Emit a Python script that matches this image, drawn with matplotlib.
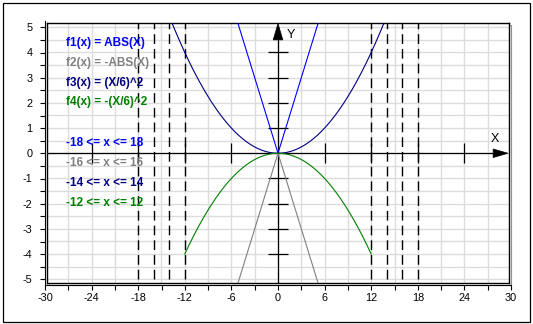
import numpy as np
import matplotlib.pyplot as plt
from matplotlib.patches import Rectangle, Polygon

plt.rcParams['font.family'] = ['Liberation Sans', 'DejaVu Sans']
plt.rcParams['lines.scale_dashes'] = False
plt.rcParams['axes.unicode_minus'] = False

# functions shown in the chart, with their x domains
labels = ["f1(x) = ABS(X)", "f2(x) = -ABS(X)", "f3(x) = (X/6)^2", "f4(x) = -(X/6)^2"]
funcs = [lambda x: np.abs(x), lambda x: -np.abs(x),
         lambda x: (x / 6) ** 2, lambda x: -(x / 6) ** 2]
domains = [18, 16, 14, 12]
colors = ["#0000ff", "#808080", "#000080", "#008000"]
range_labels = ["-18 <= x <= 18", "-16 <= x <= 16", "-14 <= x <= 14", "-12 <= x <= 12"]

axis_xticks = [-24, -18, -12, -6, 6, 12, 18, 24]
axis_yticks = [-4, -3, -2, -1, 1, 2, 3, 4]

W, H = 533, 324
fig = plt.figure(figsize=(W / 100, H / 100), dpi=100, facecolor="w")


def fx(px):
    return px / W


def fy(py):
    return 1 - py / H


# plotting box
ax = fig.add_axes([fx(47), fy(283), fx(509) - fx(47), fy(23) - fy(283)], zorder=2)
ax.set_xlim(-29.742, 29.742)
ax.set_ylim(-5.15, 5.17)
ax.set_xticks(np.arange(-27, 28, 3))
ax.set_yticks(np.arange(-5, 5.01, 0.5))
ax.tick_params(length=0, labelleft=False, labelbottom=False)
ax.grid(color="#dcdcdc", lw=1.0)
ax.set_axisbelow(True)
for s in ax.spines.values():
    s.set_color("black")
    s.set_linewidth(1.0)

# outer scale axes
ax2 = fig.add_axes([fx(45), fy(279.3), fx(511) - fx(45), fy(27.3) - fy(279.3)], zorder=1)
ax2.patch.set_visible(False)
ax2.set_xlim(-30, 30)
ax2.set_ylim(-5, 5)
ax2.spines["top"].set_visible(False)
ax2.spines["right"].set_visible(False)
ax2.spines["bottom"].set_position(("outward", 4.2))
ax2.spines["left"].set_bounds(-5.23, 5.26)
ax2.set_xticks(np.arange(-30, 31, 6))
ax2.set_xticks(np.arange(-27, 28, 6), minor=True)
ax2.set_yticks(np.arange(-5, 6, 1))
ax2.set_yticks(np.arange(-4.5, 5, 1), minor=True)
ax2.tick_params(which="both", direction="out", length=3.6, width=0.8, labelsize=7.8)
ax2.tick_params(axis="y", pad=5.5)
ax2.tick_params(axis="x", pad=2)

# grey shadow around plotting box
fig.patches.append(Rectangle((fx(48.5), fy(284.5)), fx(510.5) - fx(48.5), fy(24.5) - fy(284.5),
                             transform=fig.transFigure, fill=False, ec="#909090", lw=0.8, zorder=0))
# outer border
fig.patches.append(Rectangle((fx(3), fy(321.5)), fx(530) - fx(3), fy(3) - fy(321.5),
                             transform=fig.transFigure, fill=False, ec="black", lw=0.9))

# central axes with arrows
ax.plot([-29.74, 27.7], [0, 0], color="black", lw=0.9, zorder=3)
ax.plot([0, 0], [-5.15, 4.5], color="black", lw=0.9, zorder=3)
ax.add_patch(Polygon([[27.7, 0.17], [29.6, 0], [27.7, -0.17]], closed=True, fc="black", ec="black", lw=0.5, zorder=4))
ax.add_patch(Polygon([[-0.62, 4.5], [0, 5.15], [0.62, 4.5]], closed=True, fc="black", ec="black", lw=0.5, zorder=4,
                     clip_on=False))
ax.vlines(axis_xticks, -0.4, 0.4, color="black", lw=0.9, zorder=3)
ax.hlines(axis_yticks, -1.3, 1.3, color="black", lw=0.9, zorder=3)
ax.text(27.9, 0.55, "X", fontsize=9, ha="center", va="center", zorder=5)
ax.text(1.6, 4.7, "Y", fontsize=9, ha="center", va="center", zorder=5)

# domain boundaries
for d in domains:
    ax.vlines([-d, d], -5.0, 5.17, color="black", lw=1.0, linestyles=(0, (7, 3.6)), zorder=3)

# curves
for f, d, c in zip(funcs, domains, colors):
    x = np.linspace(-d, d, 801)
    ax.plot(x, f(x), color=c, lw=0.8, zorder=4)

# legend texts
for i, (lab, c) in enumerate(zip(labels, colors)):
    fig.text(fx(66), fy(43 + 19.8 * i), lab, color=c, fontsize=8.5, fontweight="bold", va="center", zorder=6)
for i, (lab, c) in enumerate(zip(range_labels, colors)):
    fig.text(fx(66), fy(143 + 20 * i), lab, color=c, fontsize=8.5, fontweight="bold", va="center", zorder=6)

fig.savefig("out.png", dpi=100)
